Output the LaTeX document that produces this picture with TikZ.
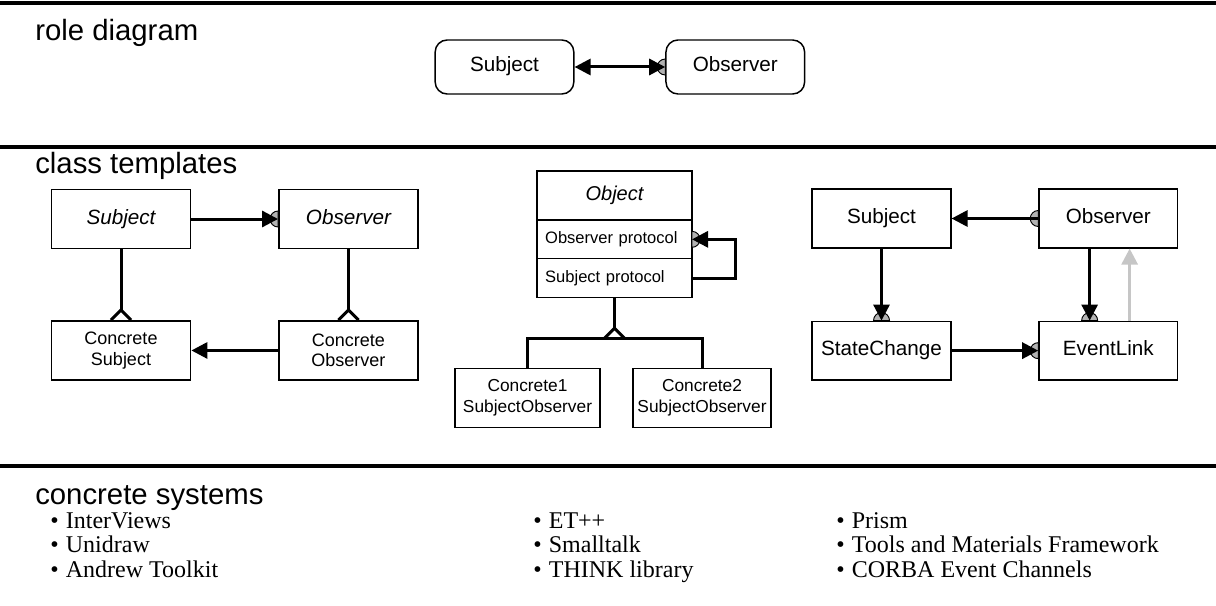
\documentclass[tikz,border=0pt]{standalone}
\usepackage{fontspec}
\setmainfont{Liberation Serif}
\setsansfont{Liberation Sans}
\usetikzlibrary{arrows.meta,positioning}

\begin{document}
\begin{tikzpicture}[
    x=0.75pt, y=0.75pt,
    node distance=53pt and 65pt,
    rolebox/.style={rectangle, rounded corners=9pt, draw=black, line width=1.1pt, minimum width=104pt, minimum height=40.5pt, text height=11pt, text depth=3.5pt, font=\sffamily\fontsize{15.5}{18}\selectfont},
    classbox/.style={rectangle, draw=black, line width=1.1pt, minimum width=104.5pt, minimum height=44.5pt, align=center, font=\sffamily\fontsize{15.5}{18}\selectfont},
    onebox/.style={classbox, text height=11pt, text depth=3.5pt},
    concbox/.style={classbox, font=\sffamily\fontsize{13.5}{15.5}\selectfont},
    protobox/.style={rectangle, draw=black, line width=1.1pt, outer sep=0pt, minimum width=116.25pt, text width=104pt, inner xsep=6.1pt, minimum height=29pt, align=left, font=\sffamily\fontsize{12.4}{14}\selectfont},
    sectitle/.style={anchor=west, inner sep=0pt, font=\sffamily\fontsize{22}{26}\selectfont},
    item/.style={inner sep=0pt, text height=13pt, text depth=5pt, font=\fontsize{18}{18}\selectfont},
    rule/.style={line width=2.6pt},
    conn/.style={line width=2.25pt},
    tip/.style={-{Triangle[length=12pt, width=12pt]}},
    pics/port/.style={code={\filldraw[fill=gray!60, draw=black, line width=0.7pt] (0,6pt) arc[start angle=90, end angle=270, radius=6pt] -- cycle;}},
    pics/isa/.style={code={\draw[line width=2.25pt] (-7.5pt,0) -- (0,7.5pt) -- (7.5pt,0);}}
]
\useasboundingbox (0,0) rectangle (1216,-606);

% === section rules ===
\draw[rule] (0,-3) -- (1216,-3);
\draw[rule] (0,-147) -- (1216,-147);
\draw[rule] (0,-466) -- (1216,-466);

% === ROLE DIAGRAM ===
\node[sectitle] (role-label) at (35,-33) {role diagram};
\node[rolebox] (sub0) at (504.5,-67) {Subject};
\node[rolebox, right=68pt of sub0] (obs0) {Observer};

\pic at (obs0.west) {port};
\draw[conn, {Triangle[length=12pt, width=12pt]}-{Triangle[length=12pt, width=12pt]}] (sub0.east) -- (obs0.west);

% === CLASS TEMPLATES ===
\node[sectitle] (cls-label) at (35,-166) {class templates};

% left group
\node[onebox, font=\sffamily\itshape\fontsize{15.5}{18}\selectfont] (subj1) at (121,-219) {Subject};
\node[onebox, font=\sffamily\itshape\fontsize{15.5}{18}\selectfont, right=of subj1] (obs1) {Observer};
\node[concbox, below=of subj1] (csubj1) {Concrete\\Subject};
\node[concbox, below=of obs1] (cobs1) {Concrete\\Observer};

\pic at (obs1.west) {port};
\draw[conn, tip] (subj1.east) -- (obs1.west);
\draw[conn] (subj1.south) -- ([yshift=7.5pt]csubj1.north);
\pic at (csubj1.north) {isa};
\draw[conn] (obs1.south) -- ([yshift=7.5pt]cobs1.north);
\pic at (cobs1.north) {isa};
\draw[conn, tip] (cobs1.west) -- (csubj1.east);

% middle group
\node[protobox, align=center, text width=104pt, minimum height=36.75pt, font=\sffamily\itshape\fontsize{15}{18}\selectfont] (obj) at (614.5,-195.5) {Object};
\node[protobox, below=0pt of obj] (obsp) {Observer protocol};
\node[protobox, below=0pt of obsp] (subjp) {Subject protocol};
\coordinate[below=30.75pt of subjp.south] (fork);
\node[concbox, minimum width=108.75pt, font=\sffamily\fontsize{13}{15.5}\selectfont] (conc1) at (527.5,-398) {Concrete1\\SubjectObserver};
\node[concbox, minimum width=103.5pt, font=\sffamily\fontsize{13}{15.5}\selectfont] (conc2) at (702,-398) {Concrete2\\SubjectObserver};

\pic[rotate=180] at (obsp.east) {port};
\draw[conn, tip] (subjp.east) -- ++(43,0) |- (obsp.east);
\draw[conn] (subjp.south) -- ([yshift=7.5pt]fork);
\pic at (fork) {isa};
\draw[conn] (conc1.north) |- (fork) -| (conc2.north);

% right group
\node[onebox, minimum width=104pt, minimum height=44pt] (subj2) at (881.5,-218.5) {Subject};
\node[onebox, minimum width=104pt, minimum height=44pt, right=of subj2] (obs2) {Observer};
\node[onebox, minimum width=104pt, minimum height=44pt, below=54pt of subj2] (sc2) {StateChange};
\node[onebox, minimum width=104pt, minimum height=44pt, below=54pt of obs2] (evl) {EventLink};

\pic at (obs2.west) {port};
\draw[conn, tip] (obs2.west) -- (subj2.east);
\pic[rotate=-90] at (sc2.north) {port};
\draw[conn, tip] (subj2.south) -- (sc2.north);
\pic[rotate=-90] at ([xshift=-14pt]evl.north) {port};
\draw[conn, tip] ([xshift=-14pt]obs2.south) -- ([xshift=-14pt]evl.north);
\pic at (evl.west) {port};
\draw[conn, tip] (sc2.east) -- (evl.west);
\draw[conn, tip, gray!45] ([xshift=16pt]evl.north) -- ([xshift=16pt]obs2.south);

% === CONCRETE SYSTEMS ===
\node[sectitle] (sys-label) at (35,-498) {concrete systems};

\node[item, anchor=west] (iv) at (50,-523) {•\hspace{0.3em}InterViews};
\node[item, below=0pt of iv.south west, anchor=north west] (unidraw) {•\hspace{0.3em}Unidraw};
\node[item, below=0pt of unidraw.south west, anchor=north west] (andrew) {•\hspace{0.3em}Andrew Toolkit};

\node[item, anchor=west] (etpp) at (533,-523) {•\hspace{0.3em}ET++};
\node[item, below=0pt of etpp.south west, anchor=north west] (smalltalk) {•\hspace{0.3em}Smalltalk};
\node[item, below=0pt of smalltalk.south west, anchor=north west] (think) {•\hspace{0.3em}THINK library};

\node[item, anchor=west] (prism) at (836,-523) {•\hspace{0.3em}Prism};
\node[item, below=0pt of prism.south west, anchor=north west] (tam) {•\hspace{0.3em}Tools and Materials Framework};
\node[item, below=0pt of tam.south west, anchor=north west] (corba) {•\hspace{0.3em}CORBA Event Channels};

\end{tikzpicture}
\end{document}
